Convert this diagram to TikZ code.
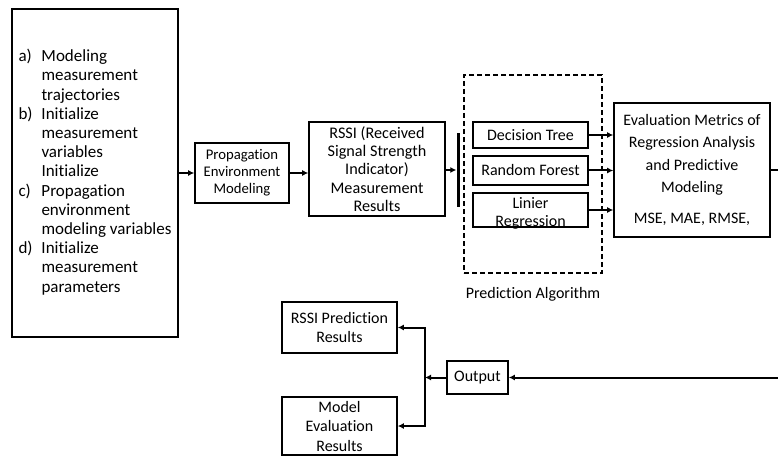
\documentclass[tikz,border=0pt]{standalone}
\usepackage{fontspec}
\setmainfont{Carlito}[Ligatures=NoCommon]
\usetikzlibrary{arrows.meta}
\begin{document}
\begin{tikzpicture}[x=1pt,y=-1pt,line cap=butt,line join=miter,>={Latex[length=6pt,width=6pt]},
	font=\fontsize{16}{18.6}\selectfont]
	\tikzset{box/.style={draw,line width=1.6pt,inner sep=0pt,align=center},
		arr/.style={->,line width=2pt},
		algbox/.style={box,minimum width=115pt}
	}
	\useasboundingbox (0,0) rectangle (778,457);
	% input side
	\node[box,minimum width=166pt,minimum height=328pt,font=\fontsize{17}{19.2}\selectfont] (setup) at (95,173)
	{\begin{tabular}{@{}p{23pt}@{}l@{}}
			a) & Modeling\\ & measurement\\ & trajectories\\
			b) & Initialize\\ & measurement\\ & variables\\ & Initialize\\
			c) & Propagation\\ & environment\\ & modeling variables\\
			d) & Initialize\\ & measurement\\ & parameters
		\end{tabular}};
	\node[box,minimum width=94pt,minimum height=60pt,font=\fontsize{14.7}{17}\selectfont] (prop) at (242,173)
	{Propagation\\Environment\\Modeling};
	\node[box,minimum width=136pt,minimum height=94pt,font=\fontsize{16.2}{18.3}\selectfont] (rssi) at (377,169)
	{RSSI (Received\\Signal Strength\\Indicator)\\Measurement\\Results};
	\node[fill,minimum width=3pt,minimum height=74pt,inner sep=0pt] (bar) at (458,170) {};
	\draw[arr] (setup.east) -- (setup.east -| prop.west);
	\draw[arr] (prop.east) -- (prop.east -| rssi.west);
	\draw[arr] (rssi.east |- bar.west) -- (bar.west);
	% prediction algorithms
	\node[draw,dash pattern=on 5pt off 3pt,line width=1.6pt,minimum width=138pt,minimum height=198pt] (alg) at (533,174) {};
	\node (algname) at (533,294) {Prediction Algorithm};
	\node[algbox,minimum height=26pt] (dt) at (530.5,135) {Decision Tree};
	\node[algbox,minimum height=29pt] (rf) at (530.5,170.5) {Random Forest};
	\node[algbox,minimum height=34pt] (lr) at (530.5,210) {};
	\node[align=center,font=\fontsize{16}{18}\selectfont] (lrtext) at (530.5,213) {Linier\\Regression};
	\node[box,minimum width=156pt,minimum height=134pt,font=\fontsize{16}{22.3}\selectfont] (eval) at (692,170)
	{Evaluation Metrics of\\Regression Analysis\\and Predictive\\Modeling\\[8.5pt]MSE, MAE, RMSE,};
	\draw[arr] (dt.east) -- (dt.east -| eval.west);
	\draw[arr] (rf.east) -- (rf.east -| eval.west);
	\draw[arr] (lr.east) -- (lr.east -| eval.west);
	% output side
	\node[box,minimum width=61pt,minimum height=33pt,inner xsep=3pt] (out) at (477.5,377.5) {Output};
	\node[box,minimum width=115pt,minimum height=51pt,font=\fontsize{16}{19}\selectfont] (pred) at (339.5,327.5)
	{RSSI Prediction\\Results};
	\node[box,minimum width=115pt,minimum height=58pt,font=\fontsize{16}{19.5}\selectfont] (meval) at (339.5,426)
	{Model\\Evaluation\\Results};
	\coordinate (turn) at (790,170);
	\coordinate (split) at (425,377.5);
	\draw[arr] (eval.east) -- (turn) |- (out.east);
	\draw[arr] (out.west) -- (split);
	\draw[arr] (split) |- (pred.east);
	\draw[arr] (split) |- (meval.east);
\end{tikzpicture}
\end{document}
